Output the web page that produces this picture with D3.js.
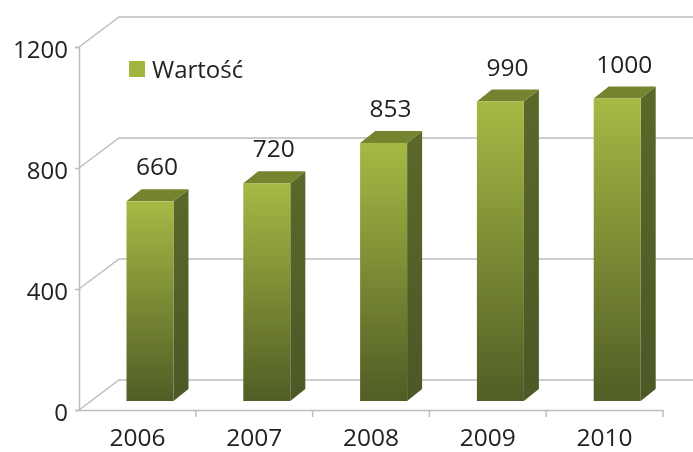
<!DOCTYPE html>
<html>
<head>
<meta charset="utf-8">
<script src="https://cdnjs.cloudflare.com/ajax/libs/d3/7.8.5/d3.min.js"></script>
<style>
    html, body { margin: 0; padding: 0; background: #fff; }
    svg { display: block; filter: blur(0.4px); }
    text { font-family: "Open Sans", sans-serif; fill: #222; }
</style>
</head>
<body>
<svg id="chart" width="693" height="452"></svg>
<script>
var years = ["2006", "2007", "2008", "2009", "2010"];
var values = [660, 720, 853, 990, 1000];
var yTicks = [0, 400, 800, 1200];
var seriesName = "Wartość";

var svg = d3.select("#chart");
var gridColor = "#bdbdbd";

var x = d3.scaleBand().domain(years).range([79, 663]);
var y = d3.scaleLinear().domain([0, 1200]).range([410, 47]);

// 3d offsets: back wall of the chart, and depth of a bar
var wallDx = 40, wallDy = -30;
var barInset = 47.5, barW = 47, barLift = 9, barDx = 15, barDy = -12;

var defs = svg.append("defs");
var front = defs.append("linearGradient").attr("id", "front").attr("x1", 0).attr("y1", 0).attr("x2", 0).attr("y2", 1);
front.append("stop").attr("offset", "0%").attr("stop-color", "#a6b944");
front.append("stop").attr("offset", "100%").attr("stop-color", "#505d25");
var side = defs.append("linearGradient").attr("id", "side").attr("x1", 0).attr("y1", 0).attr("x2", 0).attr("y2", 1);
side.append("stop").attr("offset", "0%").attr("stop-color", "#5a682a");
side.append("stop").attr("offset", "100%").attr("stop-color", "#4c5826");

// back wall grid + diagonals on the left wall
var grid = svg.append("g");
grid.selectAll(".diag").data(yTicks).enter().append("path")
    .attr("fill", "none")
    .attr("stroke", gridColor)
    .attr("stroke-width", 1.5)
    .attr("d", function(d) {
        return "M79," + y(d) + "L" + (79 + wallDx) + "," + (y(d) + wallDy) + "H693";
    });

// axes
var yAxis = svg.append("g")
    .attr("transform", "translate(79,0)")
    .call(d3.axisLeft(y).tickValues(yTicks).tickSize(4).tickPadding(7).tickFormat(d3.format("d")));
var xAxis = svg.append("g")
    .attr("transform", "translate(0,410)")
    .call(d3.axisBottom(x).tickSize(0).tickPadding(19));

yAxis.selectAll("text").attr("font-size", 24).attr("dy", "0.42em").style("font-family", '"Open Sans", sans-serif').attr("fill", "#222");
xAxis.selectAll("text").attr("font-size", 24.5).style("font-family", '"Open Sans", sans-serif').attr("fill", "#222");
yAxis.selectAll("path, line").attr("stroke", gridColor).attr("stroke-width", 1.5);
xAxis.selectAll("path, line").attr("stroke", gridColor).attr("stroke-width", 1.5);

// category separators on the bottom axis
xAxis.selectAll(".sep").data(years.slice(1).concat([null])).enter().append("line")
    .attr("stroke", gridColor)
    .attr("stroke-width", 1.5)
    .attr("x1", function(d) { return d ? x(d) : x.range()[1]; })
    .attr("x2", function(d) { return d ? x(d) : x.range()[1]; })
    .attr("y1", 0)
    .attr("y2", 7);

// bars
var bars = svg.append("g").selectAll("g").data(years).enter().append("g");
var baseY = y(0) - barLift;
function barLeft(d) { return x(d) + barInset; }
function barTop(i) { return y(values[i]) - barLift; }

bars.append("path")
    .attr("fill", "url(#side)")
    .attr("d", function(d, i) {
        var l = barLeft(d) + barW;
        return "M" + l + "," + barTop(i) + "l" + barDx + "," + barDy + "V" + (baseY + barDy) + "l" + (-barDx) + "," + (-barDy) + "Z";
    });
bars.append("path")
    .attr("fill", "#75852f")
    .attr("d", function(d, i) {
        var l = barLeft(d);
        return "M" + l + "," + barTop(i) + "l" + barDx + "," + barDy + "h" + barW + "l" + (-barDx) + "," + (-barDy) + "Z";
    });
bars.append("rect")
    .attr("fill", "url(#front)")
    .attr("x", barLeft)
    .attr("y", function(d, i) { return barTop(i); })
    .attr("width", barW)
    .attr("height", function(d, i) { return baseY - barTop(i); });

// value labels
bars.append("text")
    .attr("text-anchor", "middle")
    .attr("font-size", 24.5)
    .attr("x", function(d) { return barLeft(d) + barW / 2 + 7; })
    .attr("y", function(d, i) { return barTop(i) - 26; })
    .text(function(d, i) { return values[i]; });

// legend
svg.append("rect").attr("x", 129).attr("y", 61).attr("width", 16).attr("height", 16).attr("fill", "#a3b53f");
svg.append("text").attr("x", 152).attr("y", 78).attr("font-size", 24).text(seriesName);
</script>
</body>
</html>
